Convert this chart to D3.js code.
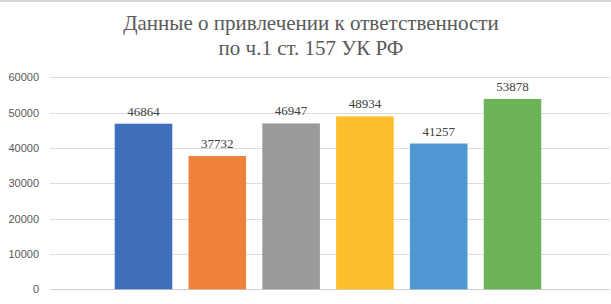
<!DOCTYPE html>
<html>
<head>
<meta charset="utf-8">
<script src="https://cdn.jsdelivr.net/npm/d3@7"></script>
<style>
  body { margin: 0; background: #fff; }
</style>
</head>
<body>
<svg id="chart" width="611" height="304"></svg>
<script>
// data
const categories = ["1", "2", "3", "4", "5", "6"];
const values = [46864, 37732, 46947, 48934, 41257, 53878];
const colors = ["#3f6fba", "#ee823d", "#999b9a", "#fcbe2a", "#4f97d3", "#6bb356"];
const yTicks = [0, 10000, 20000, 30000, 40000, 50000, 60000];
const titleLines = ["Данные о привлечении к ответственности", "по ч.1 ст. 157 УК РФ"];

const width = 611;
const height = 304;
const serif = "'Liberation Serif', 'Times New Roman', serif";
const sans = "'Liberation Sans', Arial, sans-serif";

const svg = d3.select("#chart");

// top border
svg.append("rect")
  .attr("x", 0).attr("y", 0)
  .attr("width", width).attr("height", 2)
  .attr("fill", "#d4d4d4");

const gridLeft = 50;
const gridRight = 610;

const x = d3.scaleBand()
  .domain(categories)
  .range([106.6, 549.4])
  .paddingInner(0.22)
  .paddingOuter(0.11);

const y = d3.scaleLinear()
  .domain([0, 60000])
  .range([289.3, 77.3]);

// gridlines
svg.append("g")
  .selectAll("line")
  .data(yTicks)
  .join("line")
  .attr("x1", gridLeft)
  .attr("x2", gridRight)
  .attr("y1", (d) => Math.round(y(d)) + 0.5)
  .attr("y2", (d) => Math.round(y(d)) + 0.5)
  .attr("stroke", (d) => (d === 0 ? "#cfcfcf" : "#dcdcdc"))
  .attr("stroke-width", 1);

// y axis labels
const yAxis = svg.append("g")
  .attr("transform", `translate(${gridLeft},0)`)
  .call(d3.axisLeft(y).tickValues(yTicks).tickSize(0).tickPadding(11).tickFormat(d3.format("d")))
  .attr("font-family", sans)
  .attr("font-size", 11);
yAxis.select(".domain").remove();
yAxis.selectAll("text").attr("fill", "#595959");

// bars
svg.append("g")
  .selectAll("rect")
  .data(values)
  .join("rect")
  .attr("x", (d, i) => x(categories[i]))
  .attr("y", (d) => y(d))
  .attr("width", x.bandwidth())
  .attr("height", (d) => y(0) - y(d))
  .attr("fill", (d, i) => colors[i]);

// value labels
svg.append("g")
  .attr("font-family", serif)
  .attr("font-size", 13)
  .attr("fill", "#404040")
  .attr("text-anchor", "middle")
  .selectAll("text")
  .data(values)
  .join("text")
  .attr("x", (d, i) => x(categories[i]) + x.bandwidth() / 2)
  .attr("y", (d) => y(d) - 8)
  .text((d) => d);

// title
svg.append("g")
  .attr("font-family", serif)
  .attr("font-size", 21)
  .attr("fill", "#595959")
  .attr("text-anchor", "middle")
  .selectAll("text")
  .data(titleLines)
  .join("text")
  .attr("x", 311)
  .attr("y", (d, i) => 30 + i * 24.5)
  .text((d) => d);
</script>
</body>
</html>
